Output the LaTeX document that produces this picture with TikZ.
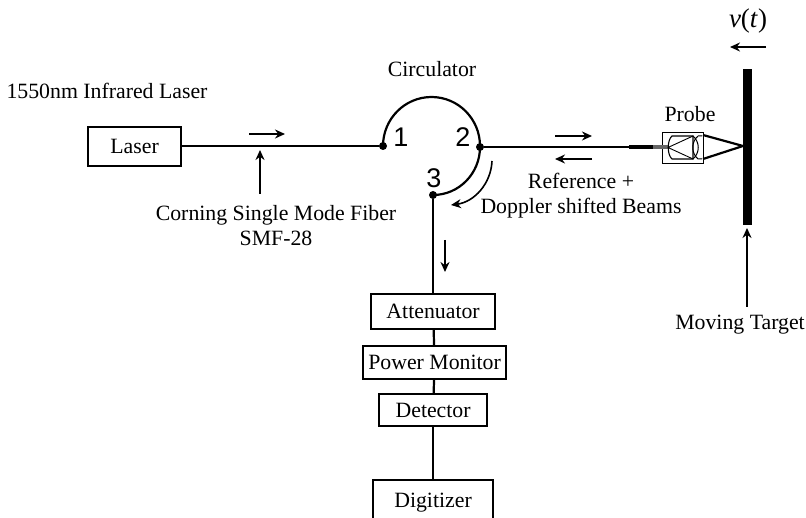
\documentclass[tikz,border=0pt]{standalone}
\usepackage{fontspec}
\setmainfont{Liberation Serif}
\setsansfont{Liberation Sans}
\usetikzlibrary{arrows.meta}
\begin{document}
\begin{tikzpicture}[x=1pt,y=-1pt,
  box/.style={draw,line width=2.2pt,inner sep=0pt,anchor=north west,font=\fontsize{21.8}{24}\selectfont},
  lbl/.style={inner sep=0pt,font=\fontsize{21.8}{24.5}\selectfont,align=center},
  wire/.style={line width=2.2pt},
  arr/.style={line width=1.6pt,-{Stealth[length=10pt,width=9pt]}},
  dot/.style={circle,fill=black,inner sep=0pt,minimum size=8pt}]
\useasboundingbox (0,0) rectangle (806,518);
\clip (0,0) rectangle (806,518);
\node[box,minimum width=93pt,minimum height=39pt] (laser) at (87,126) {Laser};
\node[box,minimum width=124pt,minimum height=35pt] (att) at (370,293) {Attenuator};
\node[box,minimum width=143pt,minimum height=33pt] (pm) at (362,345) {Power Monitor};
\node[box,minimum width=108pt,minimum height=32pt] (det) at (378,393) {Detector};
\node[box,minimum width=120pt,minimum height=60pt] (dig) at (372,479) {};
\node[lbl] (digt) at (433,503) {Digitizer};
\node[dot] (p1) at (383,146) {};
\node[dot] (p2) at (480,147) {};
\node[dot] (p3) at (433,195) {};
\draw[wire] (laser.east |- p1) -- (p1);
\draw[wire] (p1.center) arc[start angle=180,end angle=0,x radius=48.5pt,y radius=49pt];
\draw[wire] (p2.center) arc[start angle=0,end angle=-90,x radius=47pt,y radius=48pt];
\draw[wire] (p3) -- (att.north -| p3);
\draw[wire] (att) -- (pm);
\draw[wire] (pm) -- (det);
\draw[wire] (det.south) -- (dig.north);
\node[lbl,font=\fontsize{27}{29}\selectfont\sffamily] (n1) at (401,137) {1};
\node[lbl,font=\fontsize{27}{29}\selectfont\sffamily] (n2) at (463,137) {2};
\node[lbl,font=\fontsize{27}{29}\selectfont\sffamily] (n3) at (434,178) {3};
% probe
\node[draw,line width=1.2pt,minimum width=41pt,minimum height=31pt,inner sep=0pt,anchor=north west] (probe) at (662,132) {};
\coordinate (fibA) at (629,147);
\coordinate (fibB) at (653,147);
\coordinate (fibC) at (668,147);
\draw[wire] (p2) -- (fibA);
\draw[line width=4pt] (fibA) -- (fibB);
\draw[line width=4pt,black!60] (fibB) -- (fibC);
\draw[line width=1.1pt] (693,136) -- (672,136) .. controls (667,140) and (667,155) .. (672,159) -- (693,159) -- cycle;
\draw[line width=.9pt] (668,147.5) -- (693,136) (668,147.5) -- (693,159);
\draw[line width=1pt] (693,136) .. controls (700,142) and (700,153) .. (693,159);
\draw[line width=1pt] (698,136) .. controls (691,142) and (691,153) .. (698,159) -- (702,159) (698,136) -- (702,136);
\coordinate (focus) at (743,146);
\coordinate (coneT) at (703,135);
\coordinate (coneB) at (703,159);
\draw[line width=2.2pt] (coneT) -- (focus) -- (coneB);
\node[fill=black,minimum width=9.5pt,minimum height=156pt,inner sep=0pt,anchor=north west] (target) at (742.5,69) {};
% arrows
\coordinate (a1s) at (249,134); \coordinate (a1e) at (285,134);
\draw[arr] (a1s) -- (a1e);
\coordinate (a2s) at (555,136); \coordinate (a2e) at (592,136);
\draw[arr] (a2s) -- (a2e);
\coordinate (a3s) at (592,159); \coordinate (a3e) at (555,159);
\draw[arr] (a3s) -- (a3e);
\coordinate (a4s) at (445,240); \coordinate (a4e) at (445,272);
\draw[arr] (a4s) -- (a4e);
\coordinate (a5s) at (766,47); \coordinate (a5e) at (730,47);
\draw[arr] (a5s) -- (a5e);
\coordinate (a6s) at (260,194); \coordinate (a6e) at (260,150);
\draw[arr] (a6s) -- (a6e);
\coordinate (a7s) at (747,307); \coordinate (a7e) at (747,228);
\draw[arr] (a7s) -- (a7e);
\coordinate (a8s) at (492,161); \coordinate (a8e) at (451,205);
\draw[arr] (a8s) .. controls (491,184) and (474,202) .. (a8e);
% labels
\node[lbl] (t1) at (107,91) {1550nm Infrared Laser};
\node[lbl] (t2) at (432,69) {Circulator};
\node[lbl] (t3) at (276,225.5) {Corning Single Mode Fiber\\SMF-28};
\node[lbl] (t4) at (581,195.5) {Reference +\\Doppler shifted Beams};
\node[lbl] (t5) at (690,114) {Probe};
\node[lbl] (t6) at (740,325) {Moving Target};
\node[lbl,font=\fontsize{27}{29}\selectfont] (t7) at (748,21) {\textit{v}(\textit{t})};
\end{tikzpicture}
\end{document}
